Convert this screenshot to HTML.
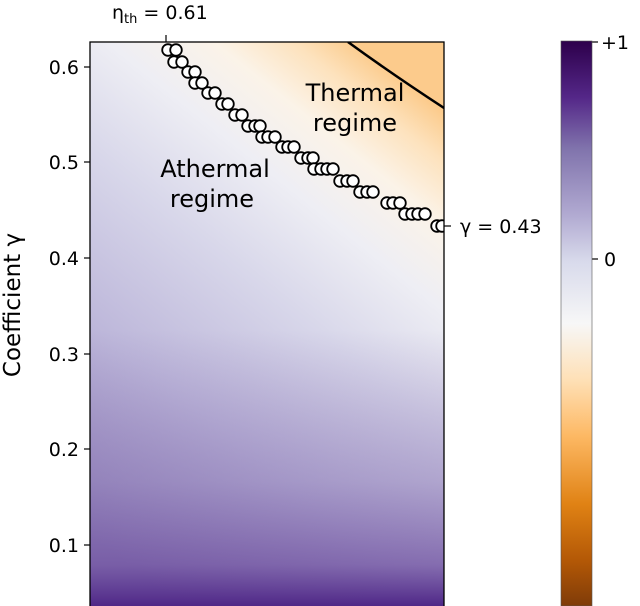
<!DOCTYPE html>
<html><head><meta charset="utf-8"><style>
html,body{margin:0;padding:0;background:#fff;}
svg{display:block;font-family:"DejaVu Sans","Liberation Sans",sans-serif;}
</style></head><body>
<svg width="640" height="606" viewBox="0 0 640 606" xmlns="http://www.w3.org/2000/svg">
<defs>
<linearGradient id="diag" x1="0.25" y1="1" x2="0.75" y2="0" gradientUnits="objectBoundingBox">
  <stop offset="0" stop-color="#9a8cc0"/>
  <stop offset="0.3" stop-color="#bdb7da"/>
  <stop offset="0.55" stop-color="#d8d7ea"/>
  <stop offset="0.72" stop-color="#eeeef4"/>
  <stop offset="0.84" stop-color="#fbf3e8"/>
  <stop offset="0.93" stop-color="#fde2bd"/>
  <stop offset="1" stop-color="#fccb8c"/>
</linearGradient>
<linearGradient id="bot" x1="0" y1="0" x2="0" y2="1">
  <stop offset="0" stop-color="#7a62a8" stop-opacity="0"/>
  <stop offset="0.55" stop-color="#7a62a8" stop-opacity="0.38"/>
  <stop offset="0.85" stop-color="#6a4a9c" stop-opacity="0.7"/>
  <stop offset="1" stop-color="#4f2787" stop-opacity="1"/>
</linearGradient>
<linearGradient id="cb" x1="0" y1="0" x2="0" y2="1">
  <stop offset="0" stop-color="#2d004b"/>
  <stop offset="0.1" stop-color="#542788"/>
  <stop offset="0.19" stop-color="#8073ac"/>
  <stop offset="0.31" stop-color="#b2abd2"/>
  <stop offset="0.39" stop-color="#d8daeb"/>
  <stop offset="0.5" stop-color="#f7f7f7"/>
  <stop offset="0.6" stop-color="#fee0b6"/>
  <stop offset="0.7" stop-color="#fdb863"/>
  <stop offset="0.82" stop-color="#e08214"/>
  <stop offset="0.92" stop-color="#b35806"/>
  <stop offset="1" stop-color="#7f3b08"/>
</linearGradient>
<clipPath id="pc"><rect x="90" y="42" width="354" height="564"/></clipPath>
</defs>
<g clip-path="url(#pc)">
<rect x="90" y="42" width="354" height="564" fill="url(#diag)"/>
<rect x="90" y="330" width="354" height="276" fill="url(#bot)"/>
<path d="M348,42 Q392,74 444,108" fill="none" stroke="#000" stroke-width="2.5"/>
<g fill="#fff" stroke="#000" stroke-width="1.8">
<circle cx="168" cy="50" r="5.8"/><circle cx="176" cy="50" r="5.8"/>
<circle cx="174" cy="62" r="5.8"/><circle cx="182" cy="62" r="5.8"/>
<circle cx="188" cy="72" r="5.8"/><circle cx="195" cy="72" r="5.8"/>
<circle cx="195" cy="83" r="5.8"/><circle cx="202" cy="83" r="5.8"/>
<circle cx="208" cy="93" r="5.8"/><circle cx="215" cy="93" r="5.8"/>
<circle cx="222" cy="104" r="5.8"/><circle cx="228" cy="104" r="5.8"/>
<circle cx="235" cy="115" r="5.8"/><circle cx="242" cy="115" r="5.8"/>
<circle cx="248" cy="126" r="5.8"/><circle cx="255" cy="126" r="5.8"/><circle cx="260" cy="126" r="5.8"/>
<circle cx="262" cy="137" r="5.8"/><circle cx="268" cy="137" r="5.8"/><circle cx="275" cy="137" r="5.8"/>
<circle cx="282" cy="147" r="5.8"/><circle cx="288" cy="147" r="5.8"/><circle cx="294" cy="147" r="5.8"/>
<circle cx="301" cy="158" r="5.8"/><circle cx="308" cy="158" r="5.8"/><circle cx="313" cy="158" r="5.8"/>
<circle cx="314" cy="169" r="5.8"/><circle cx="321" cy="169" r="5.8"/><circle cx="327" cy="169" r="5.8"/><circle cx="333" cy="169" r="5.8"/>
<circle cx="340" cy="181" r="5.8"/><circle cx="347" cy="181" r="5.8"/><circle cx="353" cy="181" r="5.8"/>
<circle cx="360" cy="192" r="5.8"/><circle cx="367" cy="192" r="5.8"/><circle cx="373" cy="192" r="5.8"/>
<circle cx="387" cy="203" r="5.8"/><circle cx="393" cy="203" r="5.8"/><circle cx="400" cy="203" r="5.8"/>
<circle cx="405" cy="214" r="5.8"/><circle cx="412" cy="214" r="5.8"/><circle cx="418" cy="214" r="5.8"/><circle cx="425" cy="214" r="5.8"/>
<circle cx="437" cy="226" r="5.8"/><circle cx="442" cy="226" r="5.8"/>
</g>
</g>
<rect x="90" y="42" width="354" height="570" fill="none" stroke="#000" stroke-width="1.3"/>
<g font-size="24" text-anchor="middle" fill="#000">
<text x="355" y="101">Thermal</text>
<text x="355" y="131">regime</text>
<text x="215" y="177">Athermal</text>
<text x="212" y="207">regime</text>
</g>
<g stroke="#000" stroke-width="1.2">
<line x1="84" y1="67" x2="90" y2="67"/><line x1="84" y1="162" x2="90" y2="162"/>
<line x1="84" y1="258" x2="90" y2="258"/><line x1="84" y1="354" x2="90" y2="354"/>
<line x1="84" y1="449" x2="90" y2="449"/><line x1="84" y1="545" x2="90" y2="545"/>
<line x1="166" y1="35" x2="166" y2="42"/>
<line x1="444" y1="226" x2="451" y2="226"/>
<line x1="592" y1="42" x2="598" y2="42"/><line x1="592" y1="259" x2="598" y2="259"/>
</g>
<g font-size="19" text-anchor="end" fill="#000">
<text x="79" y="74">0.6</text><text x="79" y="169">0.5</text><text x="79" y="265">0.4</text>
<text x="79" y="361">0.3</text><text x="79" y="456">0.2</text><text x="79" y="552">0.1</text>
</g>
<text x="20" y="305" font-size="23" text-anchor="middle" transform="rotate(-90 20 305)">Coefficient γ</text>
<text x="112" y="19" font-size="19">η<tspan font-size="13" dy="4">th</tspan><tspan dy="-4"> = 0.61</tspan></text>
<text x="460" y="233" font-size="19">γ = 0.43</text>
<rect x="561" y="41" width="31" height="565" fill="url(#cb)" stroke="#555" stroke-width="0.6"/>
<text x="601" y="49" font-size="19">+1</text>
<text x="604" y="266" font-size="19">0</text>
</svg>
</body></html>
